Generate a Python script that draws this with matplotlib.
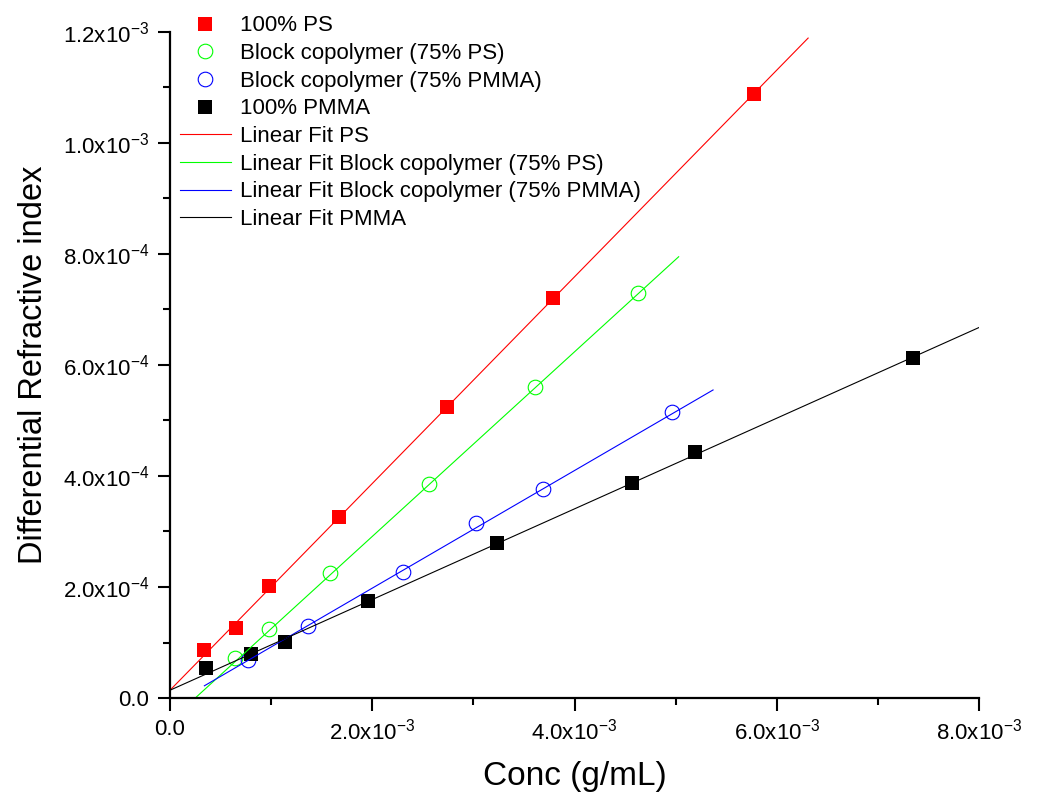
import matplotlib
matplotlib.use('Agg')
import matplotlib.pyplot as plt
from matplotlib.ticker import FuncFormatter, MultipleLocator

plt.rcParams['font.family'] = ['Liberation Sans', 'DejaVu Sans']
plt.rcParams['axes.unicode_minus'] = False

# measured points (conc in g/mL, dRI)
ps_x = [0.34e-3, 0.65e-3, 0.98e-3, 1.67e-3, 2.74e-3, 3.79e-3, 5.77e-3]
ps_y = [0.87e-4, 1.26e-4, 2.02e-4, 3.26e-4, 5.24e-4, 7.21e-4, 10.88e-4]

bps_x = [0.64e-3, 0.975e-3, 1.58e-3, 2.56e-3, 3.61e-3, 4.63e-3]
bps_y = [0.72e-4, 1.24e-4, 2.25e-4, 3.86e-4, 5.60e-4, 7.30e-4]

bpm_x = [0.77e-3, 1.365e-3, 2.30e-3, 3.03e-3, 3.69e-3, 4.96e-3]
bpm_y = [0.685e-4, 1.30e-4, 2.27e-4, 3.15e-4, 3.77e-4, 5.15e-4]

pmma_x = [0.36e-3, 0.80e-3, 1.14e-3, 1.96e-3, 3.23e-3, 4.57e-3, 5.19e-3, 7.35e-3]
pmma_y = [0.54e-4, 0.79e-4, 1.01e-4, 1.75e-4, 2.79e-4, 3.87e-4, 4.43e-4, 6.13e-4]

# linear fit lines (end points)
fit_ps_x = [0.0, 6.31e-3]
fit_ps_y = [0.14e-4, 11.89e-4]
fit_bps_x = [0.25e-3, 5.03e-3]
fit_bps_y = [0.0, 7.95e-4]
fit_bpm_x = [0.34e-3, 5.37e-3]
fit_bpm_y = [0.22e-4, 5.55e-4]
fit_pmma_x = [0.0, 8.03e-3]
fit_pmma_y = [0.14e-4, 6.70e-4]


def sci(v, pos):
    if abs(v) < 1e-12:
        return '0.0'
    exp = -3 if abs(v) >= 0.99e-3 else -4
    m = v / 10 ** exp
    return '%.1fx10$^{\\mathregular{%d}}$' % (m, exp)


fig = plt.figure(figsize=(10.48, 7.99), dpi=100)
ax = fig.add_axes([0.1622, 0.1264, 0.7720, 0.8336])

h1, = ax.plot(ps_x, ps_y, 's', color='#ff0000', markersize=10, markeredgewidth=0, label='100% PS')
h2, = ax.plot(bps_x, bps_y, 'o', mfc='none', mec='#00ff00', markersize=10.5, markeredgewidth=0.8,
              label='Block copolymer (75% PS)')
h3, = ax.plot(bpm_x, bpm_y, 'o', mfc='none', mec='#0000ff', markersize=10.5, markeredgewidth=0.8,
              label='Block copolymer (75% PMMA)')
h4, = ax.plot(pmma_x, pmma_y, 's', color='black', markersize=10, markeredgewidth=0, label='100% PMMA')
l1, = ax.plot(fit_ps_x, fit_ps_y, color='#ff0000', lw=0.8, label='Linear Fit PS')
l2, = ax.plot(fit_bps_x, fit_bps_y, color='#00ff00', lw=0.8, label='Linear Fit Block copolymer (75% PS)')
l3, = ax.plot(fit_bpm_x, fit_bpm_y, color='#0000ff', lw=0.8, label='Linear Fit Block copolymer (75% PMMA)')
l4, = ax.plot(fit_pmma_x, fit_pmma_y, color='black', lw=0.8, label='Linear Fit PMMA')

ax.set_xlim(0, 8e-3)
ax.set_ylim(0, 1.2e-3)
ax.xaxis.set_major_locator(MultipleLocator(2e-3))
ax.xaxis.set_minor_locator(MultipleLocator(1e-3))
ax.yaxis.set_major_locator(MultipleLocator(2e-4))
ax.yaxis.set_minor_locator(MultipleLocator(1e-4))
ax.xaxis.set_major_formatter(FuncFormatter(sci))
ax.yaxis.set_major_formatter(FuncFormatter(sci))

for s in ['top', 'right']:
    ax.spines[s].set_visible(False)
for s in ['left', 'bottom']:
    ax.spines[s].set_linewidth(1.6)
ax.tick_params(which='major', direction='out', length=9, width=1.5, labelsize=16, pad=6)
ax.tick_params(which='minor', direction='out', length=5, width=1.5)

ax.set_xlabel('Conc (g/mL)', fontsize=24, labelpad=12)
ax.set_ylabel('Differential Refractive index', fontsize=23.5, labelpad=10)

fig.legend(handles=[h1, h2, h3, h4, l1, l2, l3, l4], loc='upper left',
           bbox_to_anchor=(0.1545, 1.003), frameon=False, fontsize=16,
           handlelength=2.3, handletextpad=0.4, labelspacing=0.3, borderpad=0.3)

fig.savefig('out.png', dpi=100)
